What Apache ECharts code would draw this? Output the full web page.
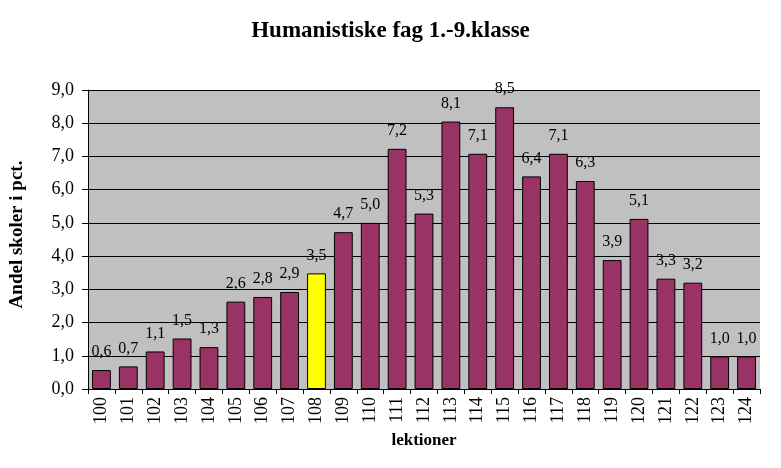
<!DOCTYPE html>
<html>
<head>
<meta charset="utf-8">
<script src="https://cdn.jsdelivr.net/npm/echarts@6/dist/echarts.min.js"></script>
<style>
  html, body { margin: 0; padding: 0; background: #fff; }
  #graph { width: 781px; height: 468px; }
</style>
</head>
<body>
<div id="graph"></div>
<script>
// lektioner pr. uge (kategorier)
const lektioner = ['100','101','102','103','104','105','106','107','108','109','110','111','112',
  '113','114','115','116','117','118','119','120','121','122','123','124']
// andel skoler i pct.
const andel = [0.57, 0.68, 1.13, 1.52, 1.26, 2.63, 2.77, 2.92, 3.48, 4.72, 5.0, 7.23, 5.28,
  8.05, 7.08, 8.48, 6.4, 7.08, 6.26, 3.88, 5.12, 3.32, 3.2, 0.98, 0.98]
const fremhaevet = '108'   // den gule søjle
const yTicks = [0, 9, 1]   // min, max, interval

const serif = '"Liberation Serif", "DejaVu Serif", serif'
const komma = v => v.toFixed(1).replace('.', ',')

let dom = document.getElementById('graph')
let myChart = echarts.init(dom)

let option = {
  animation: false,
  backgroundColor: '#fff',
  title: {
    text: 'Humanistiske fag 1.-9.klasse',
    left: 'center',
    top: 15,
    textStyle: { fontFamily: serif, fontSize: 23, fontWeight: 'bold', color: '#000' }
  },
  grid: {
    left: 88, right: 21, top: 90, bottom: 79,
    show: true,
    backgroundColor: '#c0c0c0',
    borderColor: '#808080',
    borderWidth: 0
  },
  xAxis: {
    type: 'category',
    data: lektioner,
    name: 'lektioner',
    nameLocation: 'middle',
    nameGap: 38,
    nameTextStyle: { fontFamily: serif, fontSize: 17, fontWeight: 'bold', color: '#000' },
    axisLine: { lineStyle: { color: '#000', width: 1 } },
    axisTick: { show: true, length: 5, lineStyle: { color: '#000' } },
    axisLabel: {
      rotate: 90,
      margin: 8,
      fontFamily: serif, fontSize: 18, color: '#000'
    }
  },
  yAxis: {
    type: 'value',
    min: yTicks[0], max: yTicks[1], interval: yTicks[2],
    name: 'Andel skoler i pct.',
    nameLocation: 'middle',
    nameGap: 61,
    nameTextStyle: { fontFamily: serif, fontSize: 19, fontWeight: 'bold', color: '#000', padding: [0, 0, 0, 10] },
    axisLine: { show: true, lineStyle: { color: '#000', width: 1 } },
    axisTick: { show: true, length: 6, lineStyle: { color: '#000' } },
    axisLabel: {
      margin: 14,
      fontFamily: serif, fontSize: 18, color: '#000',
      formatter: v => komma(v)
    },
    splitLine: { lineStyle: { color: '#000', width: 1 } }
  },
  series: [{
    type: 'bar',
    barCategoryGap: '30%',
    data: andel.map((v, i) => ({
      value: v,
      itemStyle: { color: lektioner[i] === fremhaevet ? '#ffff00' : '#993366' }
    })),
    itemStyle: { borderColor: '#000', borderWidth: 1 },
    label: {
      show: true,
      position: 'top',
      distance: 10,
      fontFamily: serif, fontSize: 16, color: '#000',
      formatter: p => komma(p.value)
    }
  }]
}

myChart.setOption(option)
</script>
</body>
</html>
